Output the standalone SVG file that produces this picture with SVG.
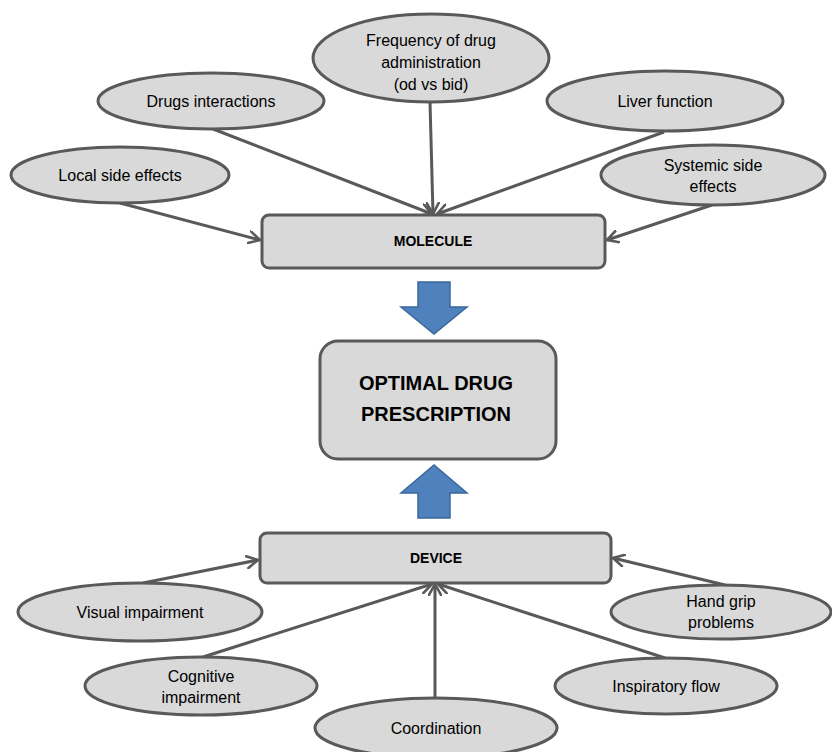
<svg xmlns="http://www.w3.org/2000/svg" width="832" height="752" viewBox="0 0 832 752">
<defs>
<marker id="arr" viewBox="0 0 14 14" refX="12" refY="7" markerWidth="14" markerHeight="14" markerUnits="userSpaceOnUse" orient="auto">
<path d="M1,1 L12,7 L1,13" fill="none" stroke="#595959" stroke-width="2.6" stroke-linecap="round" stroke-linejoin="round"/>
</marker>
<style>
.ell{fill:#d9d9d9;stroke:#595959;stroke-width:3}
.box{fill:#d9d9d9;stroke:#595959;stroke-width:3}
.t{font-family:"Liberation Sans",Arial,sans-serif;font-size:16px;fill:#000;text-anchor:middle}
.b{font-family:"Liberation Sans",Arial,sans-serif;font-weight:bold;font-size:14px;fill:#000;text-anchor:middle}
.big{font-family:"Liberation Sans",Arial,sans-serif;font-weight:bold;font-size:20px;fill:#000;text-anchor:middle}
.c{stroke:#595959;stroke-width:3;fill:none;marker-end:url(#arr)}
.blue{fill:#4f81bd;stroke:#3a679c;stroke-width:1.5}
</style>
</defs>
<rect width="832" height="752" fill="#fff"/>
<g id="connectors">
<line class="c" x1="120" y1="203" x2="260" y2="240"/>
<line class="c" x1="213" y1="129" x2="432" y2="214"/>
<line class="c" x1="430" y1="102" x2="433" y2="214"/>
<line class="c" x1="664" y1="132" x2="437" y2="214"/>
<line class="c" x1="712" y1="205" x2="607" y2="240"/>
<line class="c" x1="143" y1="583" x2="258" y2="560"/>
<line class="c" x1="203" y1="657" x2="432" y2="584"/>
<line class="c" x1="435" y1="698" x2="435" y2="584"/>
<line class="c" x1="665" y1="658" x2="438" y2="584"/>
<line class="c" x1="725" y1="585" x2="613" y2="558"/>
<polygon class="blue" points="418,282 450,282 450,307 467,307 434,334 401,307 418,307"/>
<polygon class="blue" points="418,518 450,518 450,493 467,493 434,465 401,493 418,493"/>
</g>
<g id="local"><ellipse class="ell" cx="120" cy="175" rx="109" ry="28"/><text class="t" x="120" y="181">Local side effects</text></g>
<g id="drugs"><ellipse class="ell" cx="211" cy="101" rx="113" ry="28"/><text class="t" x="211" y="107">Drugs interactions</text></g>
<g id="frequency"><ellipse class="ell" cx="431" cy="58" rx="118" ry="44"/>
<text class="t" x="431" y="46">Frequency of drug</text><text class="t" x="431" y="68">administration</text><text class="t" x="431" y="90">(od vs bid)</text></g>
<g id="liver"><ellipse class="ell" cx="665" cy="101" rx="118" ry="30"/><text class="t" x="665" y="107">Liver function</text></g>
<g id="systemic"><ellipse class="ell" cx="713" cy="175" rx="112" ry="30"/>
<text class="t" x="713" y="171">Systemic side</text><text class="t" x="713" y="192">effects</text></g>
<g id="molecule"><rect class="box" x="262" y="215" width="343" height="53" rx="7"/><text class="b" x="433" y="246">MOLECULE</text></g>
<g id="optimal"><rect class="box" x="320" y="341" width="236" height="118" rx="18"/>
<text class="big" x="436" y="390">OPTIMAL DRUG</text><text class="big" x="436" y="421">PRESCRIPTION</text></g>
<g id="device"><rect class="box" x="260" y="533" width="351" height="50" rx="7"/><text class="b" x="436" y="563">DEVICE</text></g>
<g id="visual"><ellipse class="ell" cx="140" cy="612" rx="122" ry="29"/><text class="t" x="140" y="618">Visual impairment</text></g>
<g id="cognitive"><ellipse class="ell" cx="201" cy="686" rx="116" ry="29"/>
<text class="t" x="201" y="682">Cognitive</text><text class="t" x="201" y="703">impairment</text></g>
<g id="coordination"><ellipse class="ell" cx="436" cy="728" rx="121" ry="30"/><text class="t" x="436" y="734">Coordination</text></g>
<g id="inspiratory"><ellipse class="ell" cx="666" cy="686" rx="111" ry="28"/><text class="t" x="666" y="692">Inspiratory flow</text></g>
<g id="handgrip"><ellipse class="ell" cx="721" cy="612" rx="110" ry="27"/>
<text class="t" x="721" y="607">Hand grip</text><text class="t" x="721" y="628">problems</text></g>
</svg>
